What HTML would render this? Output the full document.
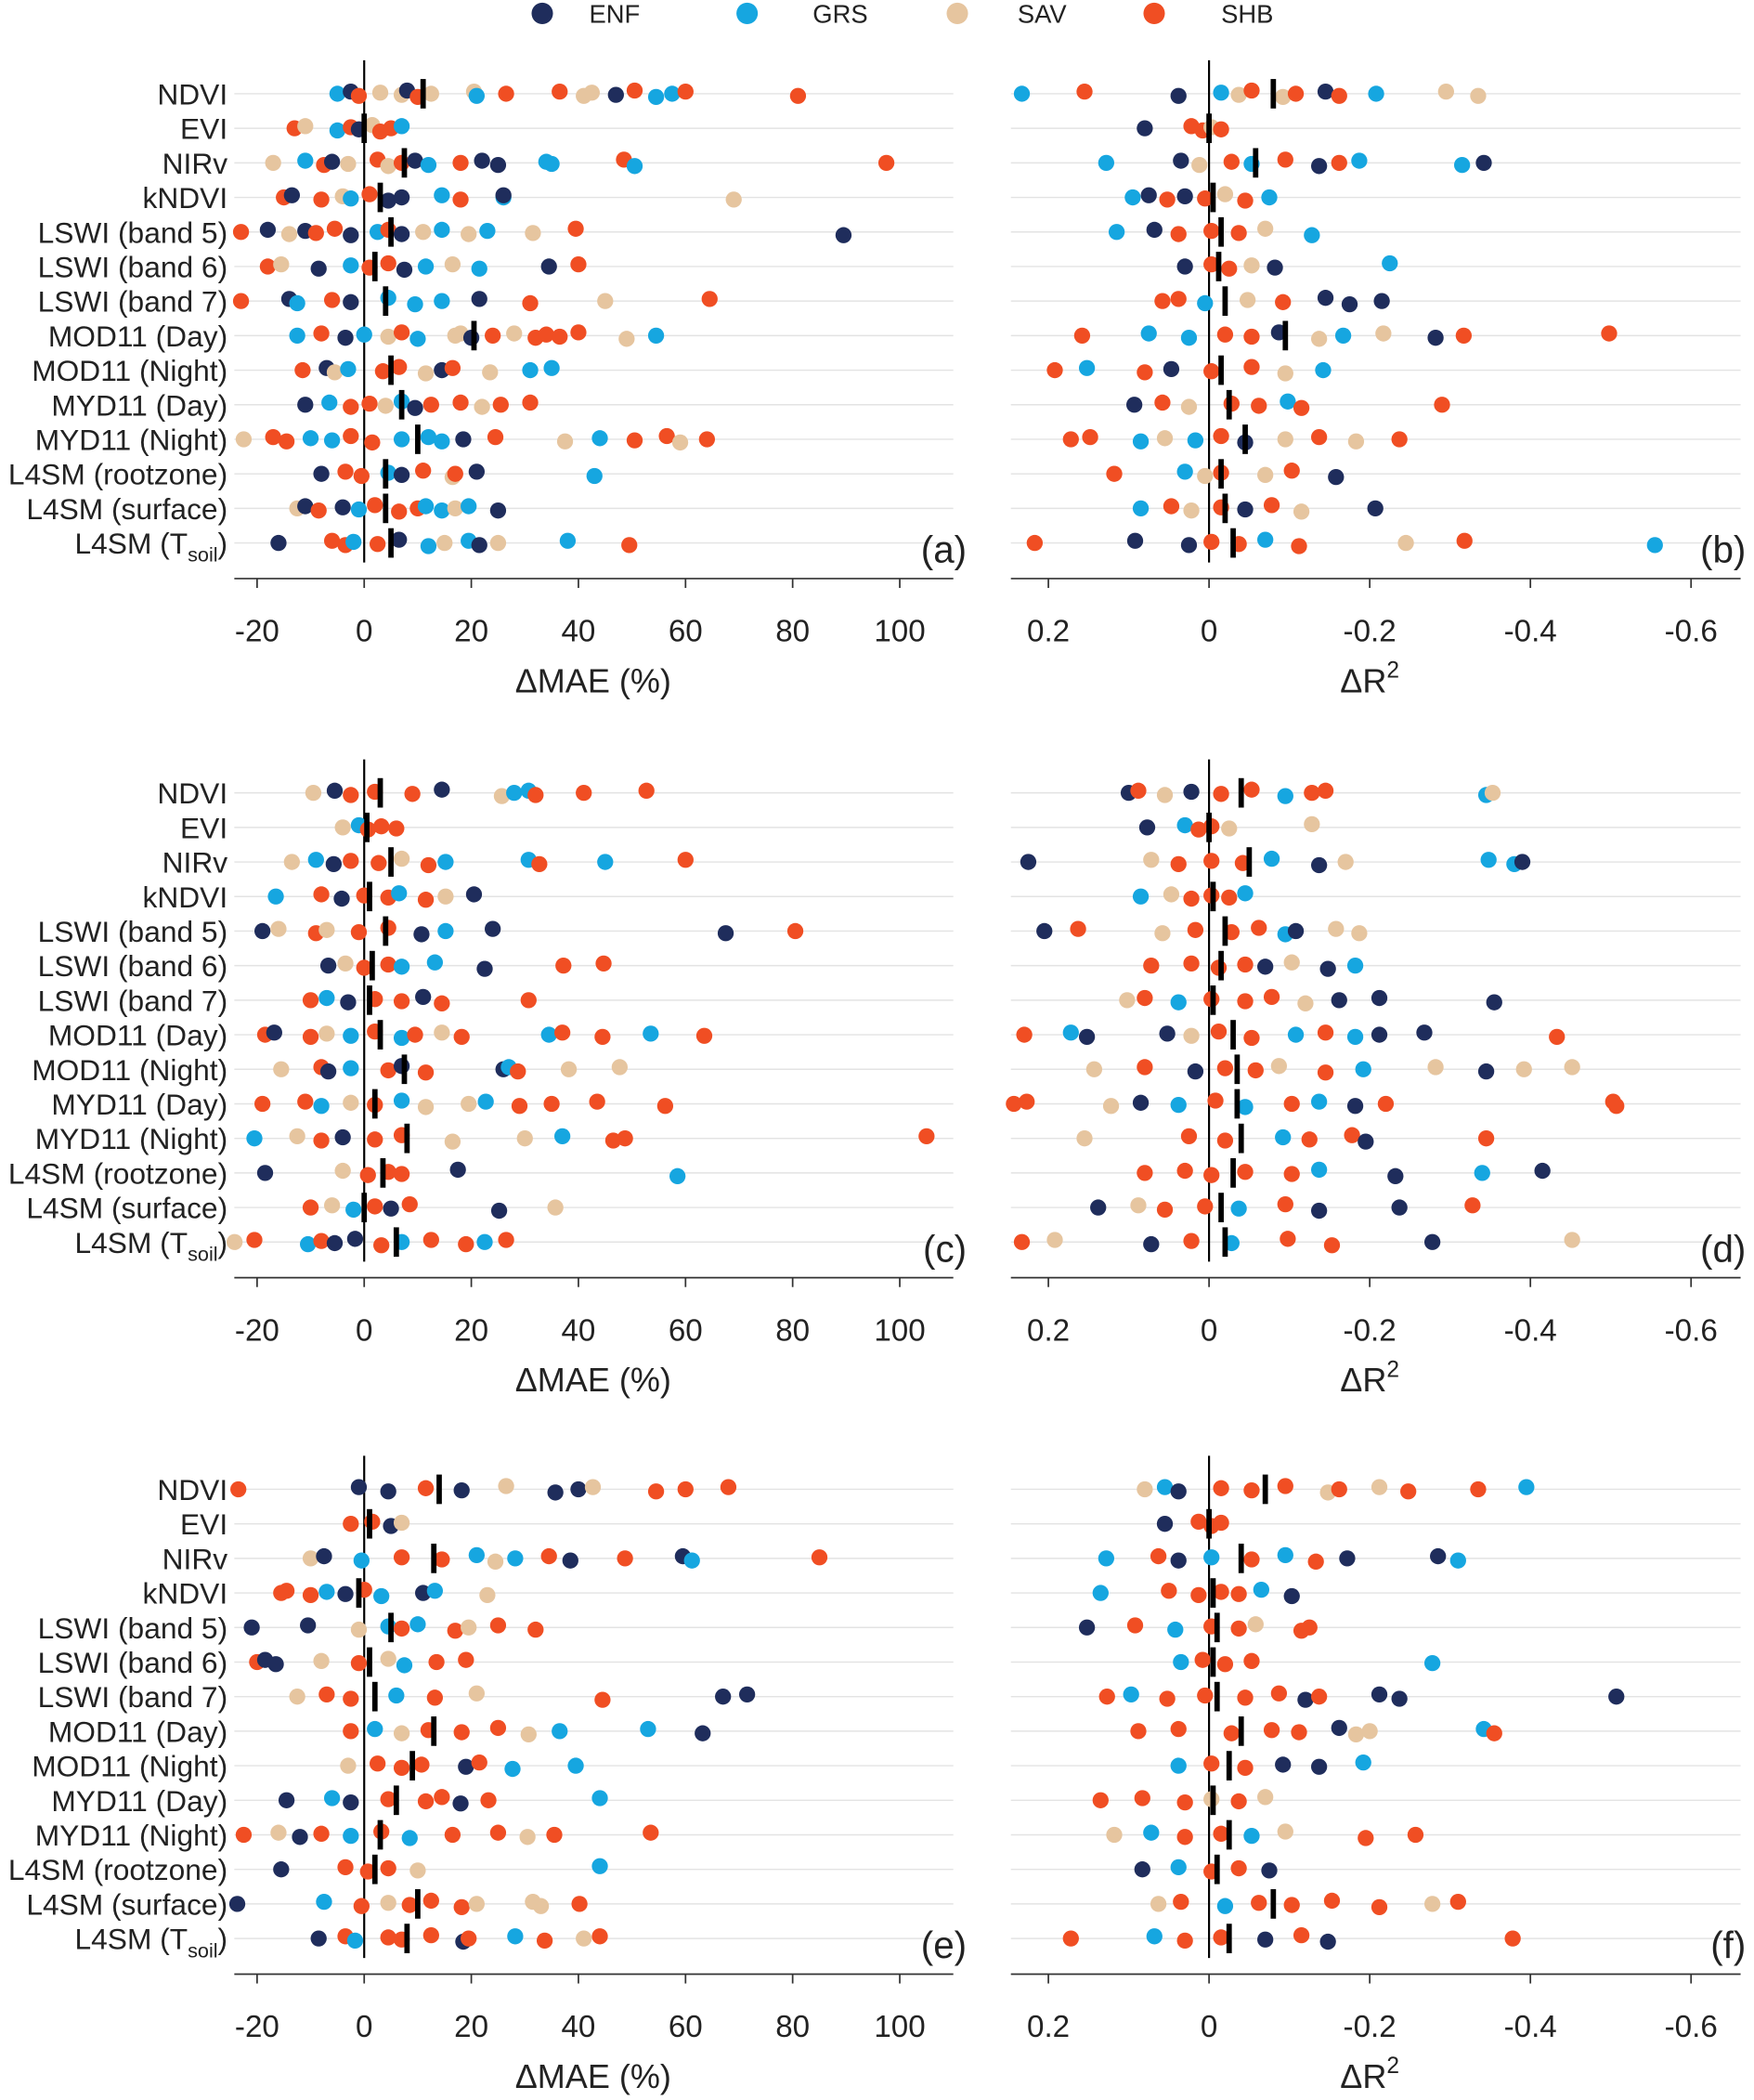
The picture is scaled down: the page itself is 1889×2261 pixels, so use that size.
<!DOCTYPE html>
<html><head><meta charset="utf-8"><style>
html,body{margin:0;padding:0;background:#fff}
svg{display:block}
text{font-family:"Liberation Sans",Arial,sans-serif;fill:#222}
</style></head><body>
<svg id="chart" xmlns="http://www.w3.org/2000/svg" width="1889" height="2261" viewBox="0 0 1310 1568">
<g id="legend"></g>
<g id="plots"></g>
</svg>
<script>
const classNames = ['ENF','GRS','SAV','SHB'];
const classColors = {E:'#1f2d5c',G:'#16a6e0',S:'#e6c59f',H:'#f04e23'};
const rowLabels = ['NDVI','EVI','NIRv','kNDVI','LSWI (band 5)','LSWI (band 6)','LSWI (band 7)','MOD11 (Day)','MOD11 (Night)','MYD11 (Day)','MYD11 (Night)','L4SM (rootzone)','L4SM (surface)','TSOIL'];
const maeTicks = [-20,0,20,40,60,80,100];
const r2Ticks = [0.2,0,-0.2,-0.4,-0.6];
const maeTickLabels = ['-20','0','20','40','60','80','100'];
const r2TickLabels = ['0.2','0','-0.2','-0.4','-0.6'];

const panelA = [
[['G',-5],['E',-2.5],['H',-1],['S',3],['S',7],['E',8],['H',10],['S',12.5],['S',20.5],['G',21],['H',26.5],['H',36.5],['S',41],['S',42.5],['E',47],['H',50.5],['G',54.5],['G',57.5],['H',60],['H',81]],
[['H',-13],['S',-11],['G',-5],['H',-2.5],['E',-1],['S',1.5],['H',3],['H',5],['G',7]],
[['S',-17],['G',-11],['H',-7.5],['E',-6],['S',-3],['H',2.5],['S',4.5],['H',7],['E',9.5],['G',12],['H',18],['E',22],['E',25],['G',34],['G',35],['H',48.5],['G',50.5],['H',97.5]],
[['H',-15],['E',-13.5],['H',-8],['S',-4],['G',-2.5],['H',1],['E',4.5],['E',7],['G',14.5],['H',18],['G',26],['E',26],['S',69]],
[['H',-23],['E',-18],['S',-14],['E',-11],['H',-9],['H',-5.5],['E',-2.5],['G',2.5],['H',4.5],['E',7],['S',11],['G',14.5],['S',19.5],['G',23],['S',31.5],['H',39.5],['E',89.5]],
[['H',-18],['S',-15.5],['E',-8.5],['G',-2.5],['H',1],['H',4.5],['E',7.5],['G',11.5],['S',16.5],['G',21.5],['E',34.5],['H',40]],
[['H',-23],['E',-14],['G',-12.5],['H',-6],['E',-2.5],['G',4.5],['G',9.5],['G',14.5],['E',21.5],['H',31],['S',45],['H',64.5]],
[['G',-12.5],['H',-8],['E',-3.5],['G',0],['S',4.5],['H',7],['G',10],['S',17],['S',18],['E',20],['H',24],['S',28],['H',32],['H',34],['H',36.5],['H',40],['S',49],['G',54.5]],
[['H',-11.5],['E',-7],['S',-5.5],['G',-3],['H',3.5],['H',6.5],['S',11.5],['E',14.5],['H',16.5],['S',23.5],['G',31],['G',35]],
[['E',-11],['G',-6.5],['H',-2.5],['H',1],['S',4],['G',7],['E',9.5],['H',12.5],['H',18],['S',22],['H',25.5],['H',31]],
[['S',-22.5],['H',-17],['H',-14.5],['G',-10],['G',-6],['H',-2.5],['H',1.5],['G',7],['G',12],['G',14.5],['E',18.5],['H',24.5],['S',37.5],['G',44],['H',50.5],['H',56.5],['S',59],['H',64]],
[['E',-8],['H',-3.5],['H',-0.5],['G',4.5],['E',7],['H',11],['S',16.5],['H',17],['E',21],['G',43]],
[['S',-12.5],['E',-11],['H',-8.5],['E',-4],['G',-1],['H',2],['H',6.5],['H',10],['G',11.5],['G',14.5],['S',17],['G',19.5],['E',25]],
[['E',-16],['H',-6],['H',-3.5],['G',-2],['H',2.5],['E',6.5],['G',12],['S',15],['G',19.5],['E',21.5],['S',25],['G',38],['H',49.5]]
];
const medianA = [11,0,7.5,3,5,2,4,20.5,5,7,10,4,4,5];

const panelB = [
[['G',0.233],['H',0.155],['E',0.038],['G',-0.015],['S',-0.037],['H',-0.053],['S',-0.092],['H',-0.108],['E',-0.145],['H',-0.162],['G',-0.208],['S',-0.295],['S',-0.335]],
[['E',0.08],['H',0.022],['H',0.008],['S',-0.003],['H',-0.015]],
[['G',0.128],['E',0.035],['S',0.012],['H',-0.028],['G',-0.053],['H',-0.095],['E',-0.137],['H',-0.162],['G',-0.187],['G',-0.315],['E',-0.342]],
[['G',0.095],['E',0.075],['H',0.052],['E',0.03],['H',0.005],['S',-0.02],['H',-0.045],['G',-0.075]],
[['G',0.115],['E',0.068],['H',0.038],['H',-0.003],['H',-0.037],['S',-0.07],['G',-0.128]],
[['E',0.03],['H',-0.003],['H',-0.025],['S',-0.053],['E',-0.082],['G',-0.225]],
[['H',0.058],['H',0.038],['G',0.005],['S',-0.048],['H',-0.092],['E',-0.145],['E',-0.175],['E',-0.215]],
[['H',0.158],['G',0.075],['G',0.025],['H',-0.02],['H',-0.053],['E',-0.087],['S',-0.137],['G',-0.167],['S',-0.217],['E',-0.282],['H',-0.317],['H',-0.498]],
[['H',0.192],['G',0.152],['H',0.08],['E',0.047],['H',-0.003],['H',-0.053],['S',-0.095],['G',-0.142]],
[['E',0.093],['H',0.058],['S',0.025],['H',-0.028],['H',-0.062],['G',-0.098],['H',-0.115],['H',-0.29]],
[['H',0.172],['H',0.148],['G',0.085],['S',0.055],['G',0.017],['H',-0.015],['E',-0.045],['S',-0.095],['H',-0.137],['S',-0.183],['H',-0.237]],
[['H',0.118],['G',0.03],['S',0.005],['H',-0.015],['S',-0.07],['H',-0.103],['E',-0.158]],
[['G',0.085],['H',0.047],['S',0.022],['H',-0.015],['E',-0.045],['H',-0.078],['S',-0.115],['E',-0.207]],
[['H',0.217],['E',0.092],['E',0.025],['H',-0.003],['H',-0.037],['G',-0.07],['H',-0.112],['S',-0.245],['H',-0.318],['G',-0.555]]
];
const medianB = [-0.08,0,-0.058,-0.005,-0.015,-0.012,-0.02,-0.095,-0.015,-0.025,-0.045,-0.015,-0.02,-0.03];

const panelC = [
[['S',-9.5],['E',-5.5],['H',-2.5],['H',2],['H',9],['E',14.5],['S',25.7],['G',28],['G',30.7],['H',32],['H',41],['H',52.7]],
[['S',-4],['G',-1],['H',0.7],['H',3.2],['H',6]],
[['S',-13.5],['G',-9],['E',-5.7],['H',-2.5],['H',2.7],['S',7],['H',12],['G',15.2],['G',30.7],['H',32.7],['G',45],['H',60]],
[['G',-16.5],['H',-8],['E',-4.2],['H',0],['H',4.5],['G',6.5],['H',11.5],['S',15.2],['E',20.5]],
[['E',-19],['S',-16],['H',-9],['S',-7],['H',-1],['H',4.5],['E',10.7],['G',15.2],['E',24],['E',67.5],['H',80.5]],
[['E',-6.7],['S',-3.5],['H',0],['H',4.5],['G',7],['G',13.2],['E',22.5],['H',37.2],['H',44.7]],
[['H',-10],['G',-7],['E',-3],['H',2],['H',7],['E',11],['H',14.5],['H',30.7]],
[['H',-18.5],['E',-16.8],['H',-10],['S',-7],['G',-2.5],['H',2],['G',7],['H',9.5],['S',14.5],['H',18.2],['G',34.5],['H',37],['H',44.5],['G',53.5],['H',63.5]],
[['S',-15.5],['H',-8],['E',-6.7],['G',-2.5],['H',4.5],['E',7],['H',11.5],['E',26],['G',27],['H',28.7],['S',38.2],['S',47.7]],
[['H',-19],['H',-11],['G',-8],['S',-2.5],['H',2],['G',7],['S',11.5],['S',19.5],['G',22.7],['H',29],['H',35],['H',43.5],['H',56.2]],
[['G',-20.5],['S',-12.5],['H',-8],['E',-4],['H',2],['H',7],['S',16.5],['S',30],['G',37],['H',46.5],['H',48.7],['H',105]],
[['E',-18.5],['S',-4],['H',0.7],['H',4.5],['H',7],['E',17.5],['G',58.5]],
[['H',-10],['S',-6],['G',-2],['H',2],['E',5],['H',8.5],['E',25.2],['S',35.7]],
[['S',-24.2],['H',-20.5],['G',-10.5],['H',-8],['E',-5.5],['E',-1.7],['H',3.2],['G',7],['H',12.5],['H',19],['G',22.5],['H',26.5]]
];
const medianC = [3,0.5,5,1,4,1.5,1,3,7.5,2,8,3.5,0,6];

const panelD = [
[['E',0.1],['H',0.088],['S',0.055],['E',0.022],['H',-0.015],['H',-0.053],['G',-0.095],['H',-0.128],['H',-0.145],['G',-0.345],['S',-0.353]],
[['E',0.077],['G',0.03],['H',0.013],['H',-0.003],['S',-0.025],['S',-0.128]],
[['E',0.225],['S',0.072],['H',0.038],['H',-0.003],['H',-0.042],['G',-0.078],['E',-0.137],['S',-0.17],['G',-0.348],['G',-0.38],['E',-0.39]],
[['G',0.085],['S',0.047],['H',0.022],['H',-0.003],['H',-0.025],['G',-0.045]],
[['E',0.205],['H',0.163],['S',0.058],['H',0.017],['H',-0.028],['H',-0.062],['G',-0.095],['E',-0.108],['S',-0.158],['S',-0.187]],
[['H',0.072],['H',0.022],['H',-0.012],['H',-0.045],['E',-0.07],['S',-0.103],['E',-0.148],['G',-0.182]],
[['S',0.102],['H',0.08],['G',0.038],['H',-0.003],['H',-0.045],['H',-0.078],['S',-0.12],['E',-0.162],['E',-0.212],['E',-0.355]],
[['H',0.23],['G',0.172],['E',0.152],['E',0.052],['S',0.022],['H',-0.012],['H',-0.053],['G',-0.108],['H',-0.145],['G',-0.182],['E',-0.212],['E',-0.268],['H',-0.433]],
[['S',0.143],['H',0.08],['E',0.017],['H',-0.02],['H',-0.058],['S',-0.087],['H',-0.145],['G',-0.192],['S',-0.282],['E',-0.345],['S',-0.392],['S',-0.452]],
[['H',0.243],['H',0.227],['S',0.122],['E',0.085],['G',0.038],['H',-0.008],['G',-0.045],['H',-0.103],['G',-0.137],['E',-0.182],['H',-0.22],['H',-0.503],['H',-0.507]],
[['S',0.155],['H',0.025],['H',-0.02],['G',-0.092],['H',-0.125],['H',-0.178],['E',-0.195],['H',-0.345]],
[['H',0.08],['H',0.03],['H',-0.003],['H',-0.045],['H',-0.103],['G',-0.137],['E',-0.232],['G',-0.34],['E',-0.415]],
[['E',0.138],['S',0.088],['H',0.055],['H',0.005],['G',-0.037],['H',-0.095],['E',-0.137],['E',-0.237],['H',-0.328]],
[['H',0.233],['S',0.192],['E',0.072],['H',0.022],['G',-0.028],['H',-0.098],['H',-0.153],['E',-0.278],['S',-0.452]]
];
const medianD = [-0.04,0,-0.05,-0.005,-0.02,-0.015,-0.005,-0.03,-0.035,-0.035,-0.04,-0.03,-0.015,-0.02];

const panelE = [
[['H',-23.5],['E',-1],['E',4.5],['H',11.5],['E',18.2],['S',26.5],['E',35.7],['E',40],['S',42.7],['H',54.5],['H',60],['H',68]],
[['H',-2.5],['H',1.5],['E',5],['S',7]],
[['S',-10],['E',-7.5],['G',-0.5],['H',7],['H',14.5],['G',21],['S',24.5],['G',28.2],['H',34.5],['E',38.5],['H',48.7],['E',59.5],['G',61.2],['H',85]],
[['H',-15.5],['H',-14.5],['H',-10],['G',-7],['E',-3.5],['H',0],['G',3.2],['E',11],['G',13.2],['S',23]],
[['E',-21],['E',-10.5],['S',-1],['G',4.5],['H',7],['G',10],['H',17],['S',19.5],['H',25],['H',32]],
[['H',-20],['E',-18.5],['E',-16.5],['S',-8],['H',-1],['S',4.5],['G',7.5],['H',13.5],['H',19]],
[['S',-12.5],['H',-7],['H',-2.5],['G',6],['H',13.2],['S',21],['H',44.5],['E',67],['E',71.5]],
[['H',-2.5],['G',2],['S',7],['H',12],['H',18.2],['H',25],['S',30.7],['G',36.5],['G',53],['E',63.2]],
[['S',-3],['H',2.5],['H',7],['H',10.7],['E',19],['H',21.5],['G',27.7],['G',39.5]],
[['E',-14.5],['G',-6],['E',-2.5],['H',4.5],['H',11.5],['H',14.5],['E',18],['H',23.2],['G',44]],
[['H',-22.5],['S',-16],['E',-12],['H',-8],['G',-2.5],['H',3.2],['G',8.5],['H',16.5],['H',25],['S',30.5],['H',35.5],['H',53.5]],
[['E',-15.5],['H',-3.5],['H',0.7],['H',4.5],['S',10],['G',44]],
[['E',-23.7],['G',-7.5],['H',-0.5],['S',4.5],['H',8.5],['H',12.5],['H',18.2],['S',21],['S',31.5],['S',33],['H',40.2]],
[['E',-8.5],['H',-3.5],['G',-1.7],['H',4.5],['H',7],['H',12.5],['E',18.5],['H',19.5],['G',28.2],['H',33.7],['S',41],['H',44]]
];
const medianE = [14,1,13,-1,5,1,2,13,9,6,3,2,10,8];

const panelF = [
[['S',0.08],['G',0.055],['E',0.038],['H',-0.015],['H',-0.053],['H',-0.095],['S',-0.148],['H',-0.162],['S',-0.212],['H',-0.248],['H',-0.335],['G',-0.395]],
[['E',0.055],['H',0.013],['H',-0.003],['H',-0.015]],
[['G',0.128],['H',0.063],['E',0.038],['G',-0.003],['H',-0.053],['G',-0.095],['H',-0.133],['E',-0.172],['E',-0.285],['G',-0.31]],
[['G',0.135],['H',0.05],['H',0.013],['H',-0.015],['H',-0.037],['G',-0.065],['E',-0.103]],
[['E',0.152],['H',0.092],['G',0.042],['H',-0.003],['H',-0.037],['S',-0.058],['H',-0.115],['H',-0.125]],
[['G',0.035],['H',0.008],['H',-0.02],['H',-0.053],['G',-0.278]],
[['H',0.127],['G',0.097],['H',0.052],['H',0.005],['H',-0.045],['H',-0.087],['E',-0.12],['H',-0.137],['E',-0.212],['E',-0.237],['E',-0.507]],
[['H',0.088],['H',0.038],['H',-0.028],['H',-0.078],['H',-0.112],['E',-0.162],['S',-0.183],['S',-0.2],['G',-0.342],['H',-0.355]],
[['G',0.038],['H',-0.003],['H',-0.045],['E',-0.092],['E',-0.137],['G',-0.192]],
[['H',0.135],['H',0.083],['H',0.03],['S',-0.003],['H',-0.037],['S',-0.07]],
[['S',0.118],['G',0.072],['H',0.03],['H',-0.015],['G',-0.053],['S',-0.095],['H',-0.195],['H',-0.257]],
[['E',0.083],['G',0.038],['H',-0.003],['H',-0.037],['E',-0.075]],
[['S',0.063],['H',0.035],['G',-0.02],['H',-0.062],['H',-0.103],['H',-0.153],['H',-0.212],['S',-0.278],['H',-0.31]],
[['H',0.172],['G',0.068],['H',0.03],['H',-0.015],['E',-0.07],['H',-0.115],['E',-0.148],['H',-0.378]]
];
const medianF = [-0.07,0,-0.04,-0.005,-0.01,-0.005,-0.01,-0.04,-0.025,-0.005,-0.025,-0.01,-0.08,-0.025];

const NS='http://www.w3.org/2000/svg';
function mk(tag, attrs, parent){const e=document.createElementNS(NS,tag);for(const k in attrs)e.setAttribute(k,attrs[k]);parent.appendChild(e);return e;}
const maeX = v => 272 + 4*v;
const r2X = v => 903 - 600*v;
const rowY = (i,off) => 70 + i*25.8 + off;

const legend=document.getElementById('legend');
const legendPos=[[405,440],[558,607],[715,760],[862,912]];
['E','G','S','H'].forEach((c,i)=>{
  const g=mk('g',{},legend);
  
  
  mk('circle',{cx:legendPos[i][0],cy:10,r:8,fill:classColors[c]},g);
  const t=mk('text',{x:legendPos[i][1],y:17,'font-size':19},g);t.textContent=classNames[i];
});

const plots=document.getElementById('plots');
const panels=[
 {data:panelA,med:medianA,fx:maeX,left:true,off:0,letter:'(a)'},
 {data:panelB,med:medianB,fx:r2X,left:false,off:0,letter:'(b)'},
 {data:panelC,med:medianC,fx:maeX,left:true,off:522,letter:'(c)'},
 {data:panelD,med:medianD,fx:r2X,left:false,off:522,letter:'(d)'},
 {data:panelE,med:medianE,fx:maeX,left:true,off:1042,letter:'(e)'},
 {data:panelF,med:medianF,fx:r2X,left:false,off:1042,letter:'(f)'}
];
const jit=[0,-2,2,-1,1,-3,3,0,-2,2];
panels.forEach((p,pi)=>{
  const g=mk('g',{},plots);
  
  
  const x1=p.left?175:755, x2=p.left?712:1300, off=p.off;
  rowLabels.forEach((lab,i)=>{
    const y=rowY(i,off);
    const gl=mk('line',{x1:x1,x2:x2,y1:y,y2:y,stroke:'#e3e3e3','stroke-width':1},g);
    
    
    if(p.left){
      const t=mk('text',{x:170,y:y+8,'text-anchor':'end','font-size':22},g);
      
      
      if(lab==='TSOIL'){t.innerHTML='L4SM (T<tspan font-size="15" dy="6">soil</tspan><tspan dy="-6">)</tspan>';}
      else t.textContent=lab;
    }
  });
  const z=mk('line',{x1:p.fx(0),x2:p.fx(0),y1:45+off,y2:420+off,stroke:'#000','stroke-width':1.5},g);
  
  
  p.data.forEach((row,i)=>{
    row.forEach((pt,j)=>{
      const c=mk('circle',{cx:p.fx(pt[1]),cy:rowY(i,off)+jit[j%10]*0.8,r:6,fill:classColors[pt[0]]},g);
      
      
    });
    const m=mk('rect',{x:p.fx(p.med[i])-2,y:rowY(i,off)-11,width:4,height:22,fill:'#000'},g);
    
    
  });
  const ay=432+off;
  const ax=mk('line',{x1:x1,x2:x2,y1:ay,y2:ay,stroke:'#333','stroke-width':1.2},g);
  
  
  const ticks=p.left?maeTicks:r2Ticks, tl=p.left?maeTickLabels:r2TickLabels;
  ticks.forEach((v,k)=>{
    mk('line',{x1:p.fx(v),x2:p.fx(v),y1:ay,y2:ay+7,stroke:'#333','stroke-width':1.2},g);
    const t=mk('text',{x:p.fx(v),y:ay+47,'text-anchor':'middle','font-size':23},g);
    
    
    t.textContent=tl[k];
  });
  const tt=mk('text',{x:p.left?443:1023,y:ay+85,'text-anchor':'middle','font-size':25},g);
  
  
  if(p.left) tt.textContent='\u0394MAE (%)';
  else tt.innerHTML='\u0394R<tspan font-size="17" dy="-11">2</tspan>';
  const pl=mk('text',{x:p.left?722:1304,y:420+off,'text-anchor':'end','font-size':28},g);
  
  
  pl.textContent=p.letter;
});
</script>
</body></html>
